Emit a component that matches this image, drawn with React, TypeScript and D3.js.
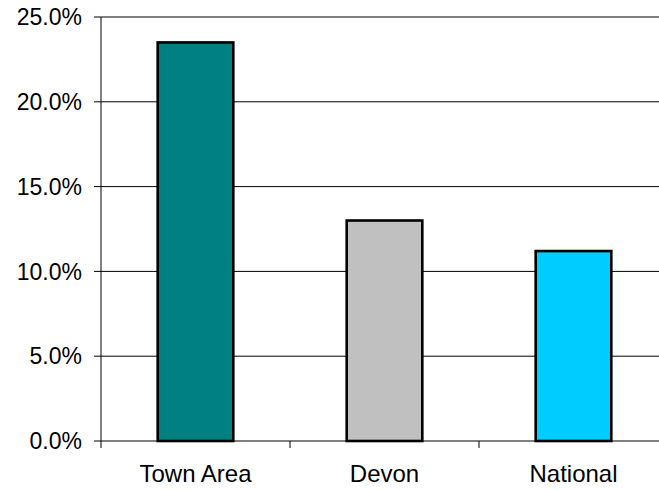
import React, { useEffect, useRef } from "react";
import * as d3 from "d3";

const categories = ["Town Area", "Devon", "National"];
const values = [0.235, 0.13, 0.112];
const barColors = ["#008080", "#C0C0C0", "#00CCFF"];
const yTicks = [0, 0.05, 0.1, 0.15, 0.2, 0.25];

const FONT = "'Liberation Sans', Arial, sans-serif";

const App: React.FC = () => {
  const svgRef = useRef<SVGSVGElement>(null);

  useEffect(() => {
    if (!svgRef.current) return;
    const svg = d3.select(svgRef.current);
    svg.selectAll("*").remove();

    const left = 101;
    const right = 668;
    const top = 17;
    const bottom = 441;

    const x = d3.scaleBand<string>().domain(categories).range([left, right]).paddingInner(0.6).paddingOuter(0.3);
    const xTickScale = d3.scaleLinear().domain([0, categories.length]).range([left, right]);
    const y = d3.scaleLinear().domain([0, 0.25]).range([bottom, top]);

    // gridlines
    svg
      .append("g")
      .selectAll("line")
      .data(yTicks.slice(1, -1))
      .enter()
      .append("line")
      .attr("x1", left)
      .attr("x2", right)
      .attr("y1", (d) => y(d))
      .attr("y2", (d) => y(d))
      .attr("stroke", "#000")
      .attr("stroke-width", 1);

    // top border
    svg
      .append("line")
      .attr("x1", left)
      .attr("x2", right)
      .attr("y1", y(0.25))
      .attr("y2", y(0.25))
      .attr("stroke", "#808080")
      .attr("stroke-width", 2);

    // bars
    svg
      .append("g")
      .selectAll("rect")
      .data(values)
      .enter()
      .append("rect")
      .attr("x", (_, i) => x(categories[i]) as number)
      .attr("width", x.bandwidth())
      .attr("y", (d) => y(d))
      .attr("height", (d) => y(0) - y(d))
      .attr("fill", (_, i) => barColors[i])
      .attr("stroke", "#000")
      .attr("stroke-width", 2.6);

    // y axis
    svg
      .append("line")
      .attr("x1", left)
      .attr("x2", left)
      .attr("y1", top)
      .attr("y2", bottom)
      .attr("stroke", "#000");
    const fmt = d3.format(".1%");
    const yg = svg.append("g");
    yTicks.forEach((t) => {
      yg.append("line")
        .attr("x1", left - 7)
        .attr("x2", left)
        .attr("y1", y(t))
        .attr("y2", y(t))
        .attr("stroke", "#000");
      yg.append("text")
        .attr("x", 82)
        .attr("y", y(t))
        .attr("dy", "0.36em")
        .attr("text-anchor", "end")
        .attr("font-family", FONT)
        .attr("font-size", 23)
        .text(fmt(t));
    });

    // x axis
    svg
      .append("line")
      .attr("x1", left)
      .attr("x2", right)
      .attr("y1", bottom)
      .attr("y2", bottom)
      .attr("stroke", "#000");
    d3.range(categories.length + 1).forEach((i) => {
      svg
        .append("line")
        .attr("x1", xTickScale(i))
        .attr("x2", xTickScale(i))
        .attr("y1", bottom)
        .attr("y2", bottom + 7)
        .attr("stroke", "#000");
    });
    svg
      .append("g")
      .selectAll("text")
      .data(categories)
      .enter()
      .append("text")
      .attr("x", (d) => (x(d) as number) + x.bandwidth() / 2)
      .attr("y", 482)
      .attr("text-anchor", "middle")
      .attr("font-family", FONT)
      .attr("font-size", 24)
      .text((d) => d);
  }, []);

  return (
    <svg
      ref={svgRef}
      width={659}
      height={490}
      style={{ position: "absolute", left: 0, top: 0, background: "#fff" }}
    ></svg>
  );
};

export default App;
